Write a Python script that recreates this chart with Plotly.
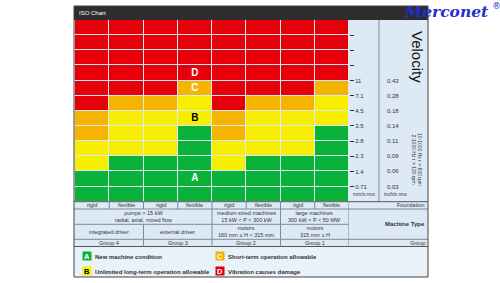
import plotly.graph_objects as go

# ---------------- data ----------------
foundations = ["rigid", "flexible", "rigid", "flexible", "rigid", "flexible", "rigid", "flexible"]
# rows (of 12, counted from the bottom) in each zone per column; zone D fills the rest
a_rows = [2, 3, 3, 5, 2, 3, 3, 5]
b_rows = [2, 3, 3, 2, 2, 3, 3, 2]
c_rows = [2, 1, 1, 1, 2, 1, 1, 1]
n_rows = 12
mm_s = ["0.71", "1.4", "2.3", "2.8", "3.5", "4.5", "7.1", "11"]
inch_s = ["0.03", "0.06", "0.09", "0.11", "0.14", "0.18", "0.28", "0.43"]
zone_letters = ["A", "B", "C", "D"]
letter_rows = [1.5, 5.5, 7.5, 8.5]
letter_col = 3
machine_row1 = [("pumps > 15 kW<br>radial, axial, mixed flow", 0, 3),
                ("medium sized machines<br>15 kW < P < 300 kW", 4, 5),
                ("large machines<br>300 kW < P < 50 MW", 6, 7)]
machine_row2 = [("integrated driver", 0, 1), ("external driver", 2, 3),
                ("motors<br>160 mm ≤ H < 315 mm", 4, 5), ("motors<br>315 mm ≤ H", 6, 7)]
groups = [("Group 4", 0, 1), ("Group 3", 2, 3), ("Group 2", 4, 5), ("Group 1", 6, 7)]
legend_text = ["New machine condition", "Unlimited long-term operation allowable",
               "Short-term operation allowable", "Vibration causes damage"]

zone_colors = ["#0ab23a", "#f8ef00", "#f4b400", "#e5000c"]
letter_colors = ["white", "black", "white", "white"]

# ---------------- geometry helpers ----------------
W, H = 500, 283
def px(x): return x / W
def py(y): return 1 - y / H

GL, GR, GT, GB = 75, 349, 20, 201.7
FR_L, FR_R, FR_T, FR_B = 74, 428, 6, 277
TB1, TB2, TB3, TB4 = 209, 224.3, 239.3, 246.5

# zone matrix
z = []
for r in range(n_rows):
    row = []
    for c in range(len(foundations)):
        a, b, cc = a_rows[c], b_rows[c], c_rows[c]
        if r < a:
            row.append(0)
        elif r < a + b:
            row.append(1)
        elif r < a + b + cc:
            row.append(2)
        else:
            row.append(3)
    z.append(row)

cs = []
for i, col in enumerate(zone_colors):
    cs.append([i / 4, col])
    cs.append([(i + 1) / 4, col])

fig = go.Figure()
fig.add_trace(go.Heatmap(
    z=z, x=list(range(len(foundations))), y=[r + 0.5 for r in range(n_rows)],
    colorscale=cs, zmin=-0.5, zmax=3.5, showscale=False, xgap=1, ygap=1,
    hoverinfo="skip"))

fig.add_trace(go.Scatter(
    x=[letter_col] * 4, y=letter_rows, mode="text", text=zone_letters,
    textfont=dict(color=letter_colors, size=10, family="Liberation Sans", weight="bold"),
    hoverinfo="skip", showlegend=False))

FONT = "Liberation Sans"
shapes = []
ann = []

def A(**kw):
    d = dict(showarrow=False, xanchor="center", yanchor="middle")
    d.update(kw)
    ann.append(d)

def hline(x0, x1, y, color="#7d8a99", w=1):
    shapes.append(dict(type="line", xref="paper", yref="paper", x0=px(x0), x1=px(x1),
                       y0=py(y), y1=py(y), line=dict(color=color, width=w)))

def vline(x, y0, y1, color="#7d8a99", w=1, xref="paper"):
    xx = px(x) if xref == "paper" else x
    shapes.append(dict(type="line", xref=xref, yref="paper", x0=xx, x1=xx,
                       y0=py(y0), y1=py(y1), line=dict(color=color, width=w)))

# panel background and title bar
shapes.append(dict(type="rect", xref="paper", yref="paper", x0=px(FR_L), x1=px(FR_R),
                   y0=py(FR_B), y1=py(FR_T), fillcolor="#dde9f5", line=dict(width=0), layer="below"))
shapes.append(dict(type="rect", xref="paper", yref="paper", x0=px(FR_L), x1=px(FR_R),
                   y0=py(TB4), y1=py(FR_B), fillcolor="#e9f1f9", line=dict(width=0), layer="below"))
shapes.append(dict(type="rect", xref="paper", yref="paper", x0=px(FR_L), x1=px(FR_R),
                   y0=py(GT), y1=py(FR_T), fillcolor="#2d2d2d", line=dict(width=0)))

# right side velocity panel
vline(379, GT, GB)
# table horizontal lines
hline(FR_L, FR_R, GB, color="#555")
hline(FR_L, FR_R, TB1)
hline(GL, GR, TB2)
hline(FR_L, FR_R, TB3)
hline(FR_L, FR_R, TB4, color="#555")
# table vertical lines (on the column boundaries of the chart's x axis)
for k in range(1, len(foundations) + 1):
    vline(k - 0.5, GB, TB1, xref="x")
for (_, s, e) in machine_row1:
    vline(e + 0.5, TB1, TB2, xref="x")
for (_, s, e) in machine_row2:
    vline(e + 0.5, TB2, TB3, xref="x")
for (_, s, e) in groups:
    vline(e + 0.5, TB3, TB4, xref="x")
# frame
shapes.append(dict(type="rect", xref="paper", yref="paper", x0=px(FR_L), x1=px(FR_R),
                   y0=py(FR_B), y1=py(FR_T), line=dict(color="#444", width=1)))

tf = dict(family=FONT, size=5.5, color="#333")
for i, f in enumerate(foundations):
    A(x=i, xref="x", y=py((GB + TB1) / 2), yref="paper", text=f, font=tf)
for (t, s, e) in machine_row1:
    A(x=(s + e) / 2, xref="x", y=py((TB1 + TB2) / 2), yref="paper", text=t, font=tf)
for (t, s, e) in machine_row2:
    A(x=(s + e) / 2, xref="x", y=py((TB2 + TB3) / 2), yref="paper", text=t, font=tf)
for (t, s, e) in groups:
    A(x=(s + e) / 2, xref="x", y=py((TB3 + TB4) / 2), yref="paper", text=t, font=tf)
for t, y, bold in [("Foundation", (GB + TB1) / 2, False), ("Machine Type", (TB1 + TB3) / 2, True),
                   ("Group", (TB3 + TB4) / 2, False)]:
    A(x=px(427), y=py(y), xref="paper", yref="paper", xanchor="right",
      text=f"<b>{t}</b>" if bold else t,
      font=dict(family=FONT, size=6 if bold else 5.5, color="#333"))

# inch/s labels
for i, t in enumerate(inch_s):
    A(x=px(385), xref="paper", y=i + 1, yref="y", xanchor="left", text=t,
      font=dict(family=FONT, size=6, color="#333"))
A(x=px(351), xref="paper", y=0.5, yref="y", xanchor="left", text="mm/s rms",
  font=dict(family=FONT, size=5, color="#333"))
A(x=px(382), xref="paper", y=0.5, yref="y", xanchor="left", text="inch/s rms",
  font=dict(family=FONT, size=5, color="#333"))
A(x=px(418), xref="paper", y=py(57), yref="paper", text="Velocity", textangle=90,
  font=dict(family=FONT, size=15, color="#111"))
A(x=px(417), xref="paper", y=py(159), yref="paper",
  text="10-1000 Hz r > 600 rpm<br>2-1000 Hz r > 120 rpm", textangle=90,
  font=dict(family=FONT, size=5, color="#333"))

# title bar
A(x=px(77), xref="paper", y=py(13), yref="paper", xanchor="left", text="ISO Chart",
  font=dict(family=FONT, size=6, color="white"))
# logo
A(x=px(402), xref="paper", y=py(12), yref="paper", xanchor="left", text="<b><i>Merconet</i></b>",
  font=dict(family="DejaVu Serif", size=15.5, color="#1f2ed0"))
A(x=px(490), xref="paper", y=py(6), yref="paper", xanchor="left", text="®",
  font=dict(family="DejaVu Sans", size=9, color="#1f2ed0"))

# legend
leg_pos = [(86.7, 256.3), (86.7, 271.3), (219.5, 256.3), (219.5, 271.3)]
for i, (x, y) in enumerate(leg_pos):
    A(x=px(x), xref="paper", y=py(y), yref="paper", text=f"<b>{zone_letters[i]}</b>",
      bgcolor=zone_colors[i], width=7, height=7, borderpad=0.5,
      font=dict(family=FONT, size=7.5, color=letter_colors[i]))
    A(x=px(x + 6.5), xref="paper", y=py(y + 0.5), yref="paper", xanchor="left",
      text=f"<b>{legend_text[i]}</b>", font=dict(family=FONT, size=6, color="#333"))

fig.update_layout(
    width=W, height=H, margin=dict(l=0, r=0, t=0, b=0),
    paper_bgcolor="white", plot_bgcolor="#3a2626",
    shapes=shapes, annotations=ann, showlegend=False,
    xaxis=dict(domain=[px(GL), px(GR)], range=[-0.5, 7.5], showticklabels=False,
               showgrid=False, zeroline=False, ticks="", fixedrange=True),
    yaxis=dict(domain=[py(GB), py(GT)], range=[0, n_rows], side="right",
               tickvals=list(range(1, 12)), ticktext=mm_s + ["", "", ""],
               ticks="outside", ticklen=4, tickcolor="#333", tickwidth=1,
               tickfont=dict(family=FONT, size=6, color="#333"),
               showgrid=False, zeroline=False, fixedrange=True),
)

fig.write_html("out.html")
